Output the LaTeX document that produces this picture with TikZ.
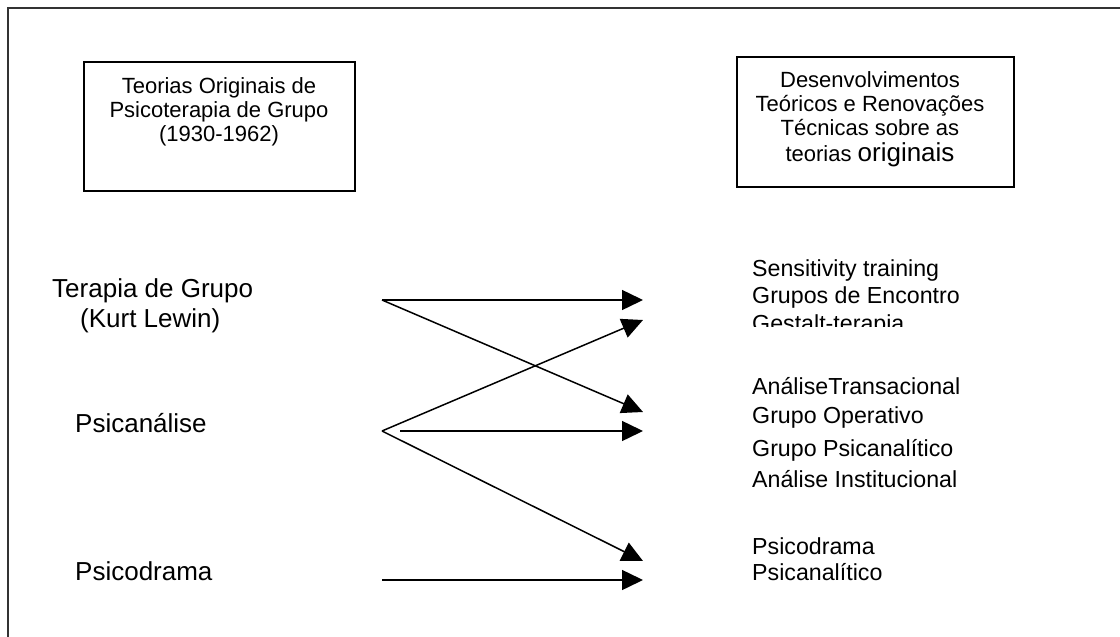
\documentclass[tikz,border=0pt]{standalone}
\usepackage{fontspec}
\setmainfont{Liberation Sans}
\usetikzlibrary{arrows.meta}
\begin{document}
\begin{tikzpicture}[x=1pt,y=-1pt,
  frameline/.style={line width=1.5pt,black!80},
  boxstyle/.style={draw,line width=1.3pt},
  boxtext/.style={font=\fontsize{22}{24}\selectfont,align=center,anchor=base},
  lefttext/.style={font=\fontsize{26}{30}\selectfont,anchor=base west,inner sep=0pt},
  listtext/.style={font=\fontsize{23.2}{27}\selectfont,anchor=base west,inner sep=0pt},
  conn/.style={line width=1.5pt,-{Triangle[length=21pt,width=20pt]}}]
\useasboundingbox (0,0) rectangle (1120,637);
% outer frame (only top and left visible)
\draw[frameline] (1120,8) -- (8,8) -- (8,637);
% boxes
\draw[boxstyle] (84,62) rectangle (355,191);
\draw[boxstyle] (737,57) rectangle (1014,187);
\node[boxtext] (b1a) at (219,93) {Teorias Originais de};
\node[boxtext] (b1b) at (219,117) {Psicoterapia de Grupo};
\node[boxtext] (b1c) at (219,141) {(1930-1962)};
\node[boxtext] (b2a) at (870,87) {Desenvolvimentos};
\node[boxtext] (b2b) at (870,111) {Teóricos e Renovações};
\node[boxtext] (b2c) at (870,135) {Técnicas sobre as};
\node[boxtext] (b2d) at (870,161) {teorias {\fontsize{26}{24}\selectfont originais}};
% left labels
\node[lefttext] (tg) at (52,297) {Terapia de Grupo};
\node[lefttext] (kl) at (80,327) {(Kurt Lewin)};
\node[lefttext] (pa) at (75,432) {Psicanálise};
\node[lefttext] (pd) at (75,580) {Psicodrama};
% right lists
\node[listtext] (r1) at (752,276) {Sensitivity training};
\node[listtext] (r2) at (752,303) {Grupos de Encontro};
\begin{scope}
\clip (700,300) rectangle (1000,326);
\node[listtext] (r3) at (752,331) {Gestalt-terapia};
\end{scope}
\node[listtext] (r4) at (752,394) {AnáliseTransacional};
\node[listtext] (r5) at (752,423) {Grupo Operativo};
\node[listtext] (r6) at (752,456) {Grupo Psicanalítico};
\node[listtext] (r7) at (752,487) {Análise Institucional};
\node[listtext] (r8) at (752,554) {Psicodrama};
\node[listtext] (r9) at (752,580) {Psicanalítico};
% arrow end points
\coordinate (s1) at (382,300);
\coordinate (s2) at (382,431);
\coordinate (s2b) at (400,431);
\coordinate (s3) at (382,580);
\coordinate (t1) at (643,300);
\coordinate (t2) at (643,320);
\coordinate (t3) at (643,412);
\coordinate (t4) at (643,431);
\coordinate (t5) at (643,561);
\coordinate (t6) at (643,580);
\draw[conn] (s1) -- (t1);
\draw[conn] (s1) -- (t3);
\draw[conn] (s2) -- (t2);
\draw[conn] (s2b) -- (t4);
\draw[conn] (s2) -- (t5);
\draw[conn] (s3) -- (t6);
\end{tikzpicture}
\end{document}
